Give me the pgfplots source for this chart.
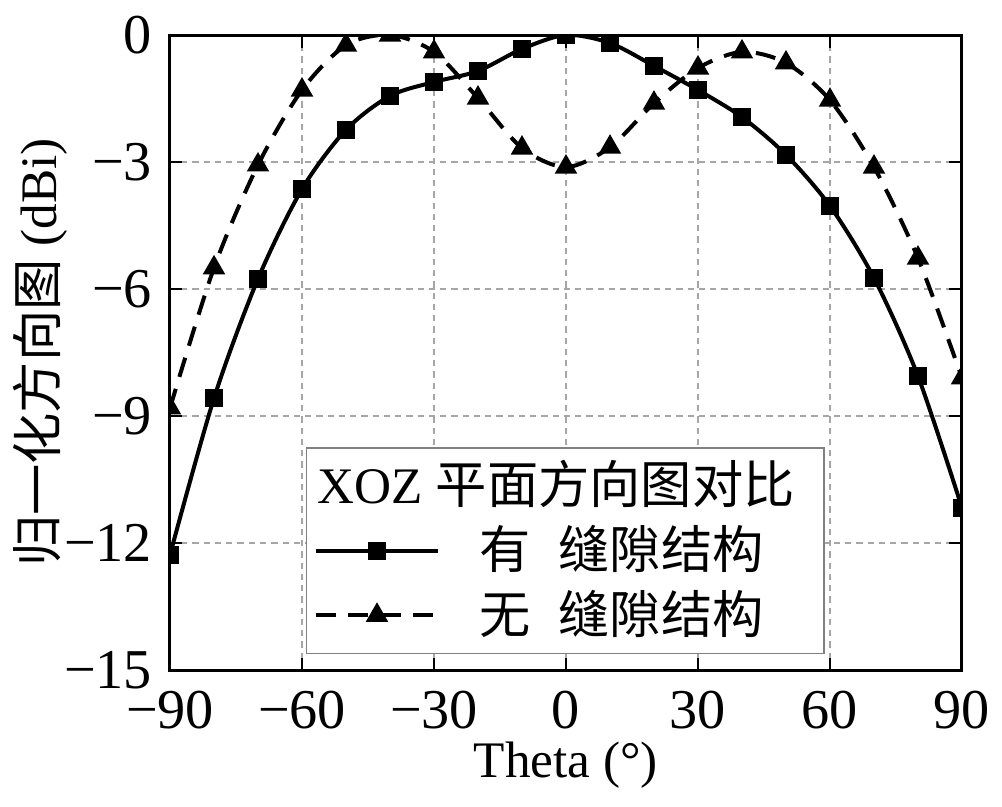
\documentclass[border=0pt]{standalone}
\usepackage{fontspec}
\setmainfont{Liberation Serif}
\newfontfamily\cjk{Noto Sans CJK SC}
\usepackage{pgfplots}
\pgfplotsset{compat=1.18}
\begin{document}
\fontsize{20.5}{24}\selectfont
\begin{tikzpicture}
\useasboundingbox (-68pt,-54.4pt) rectangle (332.8pt,268pt);
\begin{axis}[
  at={(0,0)}, anchor=south west,
  scale only axis, width=316.8pt, height=254pt,
  xmin=-90, xmax=90, ymin=-15, ymax=0,
  xtick={-90,-60,-30,0,30,60,90},
  xticklabels={−90,−60,−30,0,30,60,90},
  ytick={-15,-12,-9,-6,-3,0},
  yticklabels={−15,−12,−9,−6,−3,0},
  tick align=inside, major tick length=5pt,
  tick style={black, line width=1pt},
  axis line style={line width=1.2pt},
  grid=major,
  major grid style={gray!70, line width=0.5pt, dash pattern=on 2.5pt off 2pt},
  tick label style={font=\fontsize{22.5}{26}\selectfont},
  xticklabel style={inner sep=0pt, anchor=center, yshift=-16pt},
  yticklabel style={inner sep=0pt, anchor=east, xshift=-7pt},
  xlabel={Theta (°)},
  ylabel={{\cjk 归一化方向图} (dBi)},
  xlabel style={at={(axis description cs:0.5,0)}, anchor=center, yshift=-38pt, inner sep=0pt},
  ylabel style={at={(axis description cs:0,0.5)}, anchor=center, yshift=52pt, inner sep=0pt},
  clip marker paths=true,
  legend cell align=left,
  legend image code/.code={\draw[mark repeat=2,mark phase=2] plot coordinates {(0pt,0pt)(24.5pt,0pt)(49pt,0pt)};},
  legend style={at={(rel axis cs:0.1717,0.0252)}, anchor=south west,
    draw=gray, line width=0.6pt, fill=white,
    inner xsep=2.8pt, inner ysep=5pt,
    nodes={inner sep=0pt},
    column sep=15.6pt, row sep=5.5pt},
]
\addlegendimage{empty legend}
\addlegendentry{\hspace*{-64.6pt}XOZ {\cjk 平面方向图对比}\hspace*{9pt}}
\addplot[black, line width=1.6pt, smooth, mark=square*, mark size=2.8pt] coordinates {
(-90,-12.28) (-80,-8.58) (-70,-5.76) (-60,-3.64) (-50,-2.24) (-40,-1.44) (-30,-1.11)
(-20,-0.85) (-10,-0.33) (0,0) (10,-0.19) (20,-0.73) (30,-1.30) (40,-1.94)
(50,-2.83) (60,-4.04) (70,-5.74) (80,-8.06) (90,-11.17)
};
\addlegendentry{{\cjk 有\hspace{0.55em}缝隙结构}}
\addplot[black, line width=1.6pt, smooth, dash pattern=on 8pt off 5pt, mark=triangle*, mark size=3.6pt, mark options={solid}] coordinates {
(-90,-8.81) (-80,-5.50) (-70,-3.07) (-60,-1.30) (-50,-0.24) (-40,0) (-30,-0.40)
(-20,-1.49) (-10,-2.67) (0,-3.12) (10,-2.65) (20,-1.61) (30,-0.78) (40,-0.40)
(50,-0.66) (60,-1.54) (70,-3.12) (80,-5.27) (90,-8.10)
};
\addlegendentry{{\cjk 无\hspace{0.55em}缝隙结构}}
\end{axis}
\end{tikzpicture}
\end{document}
